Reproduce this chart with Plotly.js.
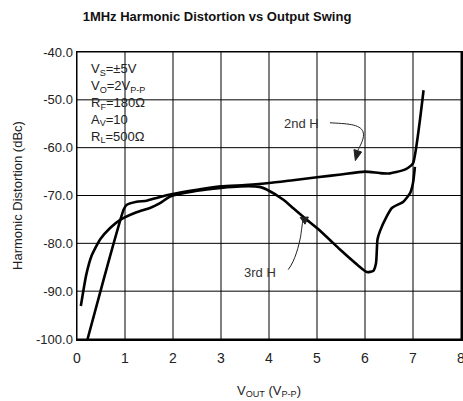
<!DOCTYPE html>
<html>
<head>
<meta charset="utf-8">
<script src="https://cdn.plot.ly/plotly-3.0.1.min.js"></script>
<style>html,body{margin:0;padding:0;background:#fff;}#chart{width:463px;height:401px;}</style>
</head>
<body>
<div id="chart"></div>
<script>
// 2nd harmonic
const h2X = [0.22, 0.57, 0.97, 1.03, 1.24, 1.45, 1.66, 1.94, 2.5, 3.0, 3.5, 4.0, 4.5, 5.0, 5.5, 6.0, 6.3, 6.5, 6.8, 6.9, 7.0, 7.22];
const h2Y = [-100, -87, -73, -72, -71.3, -71.1, -70.5, -69.8, -68.8, -68.1, -67.8, -67.4, -66.8, -66.2, -65.6, -65.0, -65.3, -65.4, -64.7, -64.2, -63.3, -48];
// 3rd harmonic
const h3X = [0.08, 0.19, 0.3, 0.48, 0.69, 0.9, 1.24, 1.52, 1.73, 1.94, 2.5, 3.0, 3.4, 3.8, 4.0, 4.3, 4.5, 4.78, 5.0, 5.27, 5.48, 5.83, 6.04, 6.17, 6.23, 6.26, 6.31, 6.45, 6.56, 6.8, 6.94, 7.0, 7.04];
const h3Y = [-93.1, -86.7, -82.7, -79.2, -76.8, -75.1, -73.5, -72.6, -71.6, -70.2, -69.0, -68.4, -68.1, -68.2, -69.0, -70.9, -72.6, -75.0, -76.8, -79.3, -81.3, -84.4, -86.0, -85.8, -84.1, -79.2, -77.5, -74.4, -72.6, -71.3, -69.5, -67.4, -64.0];

const xTickVals = [0, 1, 2, 3, 4, 5, 6, 7, 8];
const xTickText = ['0', '1', '2', '3', '4', '5', '6', '7', '8'];
const yTickVals = [-100, -90, -80, -70, -60, -50, -40];
const yTickText = ['-100.0', '-90.0', '-80.0', '-70.0', '-60.0', '-50.0', '-40.0'];

const labelNames = ['2nd H', '3rd H'];
const labelX = [4.68, 3.81];
const labelY = [-54.9, -86.2];

const conditions = 'V<sub>S</sub>=±5V<br>V<sub>O</sub>=2V<sub>P-P</sub><br>R<sub>F</sub>=180Ω<br>A<sub>V</sub>=10<br>R<sub>L</sub>=500Ω';

const FONT = '"Liberation Sans", Arial, sans-serif';
const lineStyle = {color: '#000', width: 2.6, shape: 'spline', smoothing: 0.5};

const traces = [
  {x: h2X, y: h2Y, type: 'scatter', mode: 'lines', line: lineStyle, name: '2nd H', hoverinfo: 'skip'},
  {x: h3X, y: h3Y, type: 'scatter', mode: 'lines', line: lineStyle, name: '3rd H', hoverinfo: 'skip'}
];

const annotations = [];
for (let i = 0; i < labelNames.length; i++) {
  annotations.push({x: labelX[i], y: labelY[i], xref: 'x', yref: 'y', text: labelNames[i], showarrow: false,
    font: {family: FONT, size: 13, color: '#333'}});
}
annotations.push({x: 0.03, y: 0.975, xref: 'paper', yref: 'paper', xanchor: 'left', yanchor: 'top', align: 'left',
  text: conditions, showarrow: false, font: {family: FONT, size: 13, color: '#222'}});

// grid lines at the tick positions
const shapes = [];
xTickVals.forEach(v => shapes.push({type: 'line', xref: 'x', yref: 'paper', x0: v, x1: v, y0: 0, y1: 1,
  line: {color: '#000', width: 1}, layer: 'below'}));
yTickVals.forEach(v => shapes.push({type: 'line', xref: 'paper', yref: 'y', x0: 0, x1: 1, y0: v, y1: v,
  line: {color: '#000', width: 1}, layer: 'below'}));

// leader curves with small filled arrowheads
shapes.push(
  {type: 'path', xref: 'x', yref: 'y', path: 'M 5.27,-54.8 C 5.6,-55.0 5.9,-55.0 5.96,-56.7 C 6.0,-58 5.9,-59.5 5.85,-60.6',
   line: {color: '#222', width: 1}},
  {type: 'path', xref: 'x', yref: 'y', path: 'M 5.77,-60.4 L 5.93,-60.9 L 5.8,-62.7 Z',
   line: {color: '#222', width: 1}, fillcolor: '#222'},
  {type: 'path', xref: 'x', yref: 'y', path: 'M 4.4,-85.5 C 4.55,-83.5 4.62,-80.5 4.66,-78.5 C 4.68,-77 4.7,-75.5 4.71,-75.0',
   line: {color: '#222', width: 1}},
  {type: 'path', xref: 'x', yref: 'y', path: 'M 4.65,-74.6 L 4.82,-74.5 L 4.75,-76.0 Z',
   line: {color: '#222', width: 1}, fillcolor: '#222'}
);

const layout = {
  width: 463, height: 401,
  margin: {l: 77, r: 2, t: 52, b: 62},
  paper_bgcolor: '#fff', plot_bgcolor: '#fff',
  showlegend: false,
  font: {family: FONT, size: 13, color: '#222'},
  title: {text: '<b>1MHz Harmonic Distortion vs Output Swing</b>', x: 217 / 463, xanchor: 'center', xref: 'container',
    y: 1 - 16 / 401, yanchor: 'middle', yref: 'container', font: {family: FONT, size: 13, color: '#111'}},
  xaxis: {range: [0, 8], tickmode: 'array', tickvals: xTickVals, ticktext: xTickText, ticks: '',
    showgrid: false, showline: true, mirror: true, linecolor: 'black', linewidth: 1.5, zeroline: false,
    ticklabelstandoff: 6, ticklabeloverflow: 'allow',
    tickfont: {family: FONT, size: 14, color: '#222'},
    title: {text: 'V<sub>OUT</sub> (V<sub>P-P</sub>)', font: {family: FONT, size: 13, color: '#222'}, standoff: 20}},
  yaxis: {range: [-100, -40], tickmode: 'array', tickvals: yTickVals, ticktext: yTickText, ticks: '',
    showgrid: false, showline: true, mirror: true, linecolor: 'black', linewidth: 1.5, zeroline: false,
    tickfont: {family: FONT, size: 13, color: '#222'},
    title: {text: 'Harmonic Distortion (dBc)', font: {family: FONT, size: 13, color: '#222'}, standoff: 10}},
  annotations: annotations,
  shapes: shapes
};

Plotly.newPlot('chart', traces, layout, {staticPlot: true, displayModeBar: false});
</script>
</body>
</html>
